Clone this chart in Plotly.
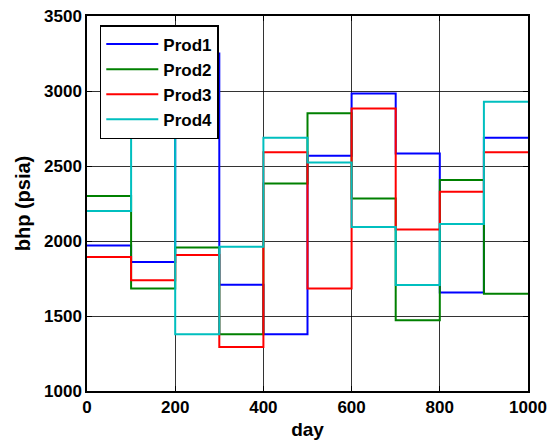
import plotly.graph_objects as go

# Bottom-hole pressure schedule per producer, one value per 100-day control step
days = [0, 100, 200, 300, 400, 500, 600, 700, 800, 900, 1000]
prod1 = [1970, 1860, 3250, 1709, 1378, 2569, 2984, 2584, 1656, 2689]
prod2 = [2300, 1684, 1956, 1378, 2384, 2851, 2284, 1471, 2407, 1649]
prod3 = [1893, 1738, 1907, 1293, 2591, 1684, 2884, 2076, 2329, 2591]
prod4 = [2200, 3100, 1378, 1962, 2689, 2524, 2093, 1707, 2113, 2929]

names = ["Prod1", "Prod2", "Prod3", "Prod4"]
series = [prod1, prod2, prod3, prod4]
colors = ["#0000FF", "#008000", "#FF0000", "#00BFBF"]

FONT = "Liberation Sans, Arial, sans-serif"

fig = go.Figure()
for name, vals, col in zip(names, series, colors):
    # repeat the final control value so the step runs to the end of the horizon
    y = list(vals) + [vals[-1]]
    fig.add_trace(go.Scatter(
        x=days, y=y, mode="lines", name=name, legendgroup=name,
        line=dict(color=col, width=2, shape="hv"),
    ))

axis_common = dict(
    showline=True, linecolor="black", linewidth=1.5, mirror="ticks",
    ticks="inside", ticklen=5, tickcolor="black",
    showgrid=True, gridcolor="rgba(0,0,0,0.8)", gridwidth=1,
    zeroline=False, automargin=False,
    tickfont=dict(family=FONT, size=17, color="black", weight="bold"),
)

fig.update_xaxes(
    range=[0, 1000], tick0=0, dtick=200, **axis_common,
    title=dict(text="day", font=dict(family=FONT, size=19, color="black", weight="bold"), standoff=7),
)
fig.update_yaxes(
    range=[1000, 3500], tick0=1000, dtick=500, **axis_common,
    title=dict(text="bhp (psia)", font=dict(family=FONT, size=20, color="black", weight="bold"), standoff=8),
)

fig.update_layout(
    width=556, height=441,
    margin=dict(l=87, r=28, t=16, b=50),
    paper_bgcolor="white", plot_bgcolor="white",
    showlegend=True,
    legend=dict(
        x=0.029, y=0.976, xanchor="left", yanchor="top",
        bgcolor="white", bordercolor="black", borderwidth=1.5,
        font=dict(family=FONT, size=17, color="black", weight="bold"),
        tracegroupgap=0, itemwidth=52,
    ),
)

fig.write_html("out.html")
